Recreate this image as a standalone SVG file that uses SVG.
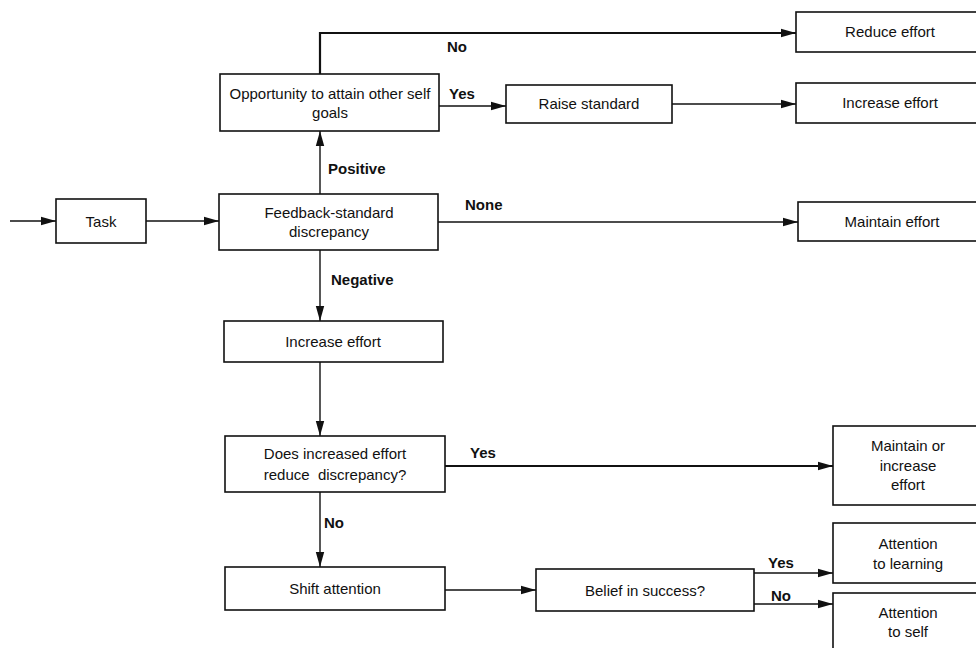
<svg xmlns="http://www.w3.org/2000/svg" width="976" height="648" viewBox="0 0 976 648">
<defs>
<marker id="ah" markerUnits="userSpaceOnUse" markerWidth="16" markerHeight="10" refX="15" refY="5" orient="auto">
<path d="M0,0.8 L15,5 L0,9.2 Z" fill="#111"/>
</marker>
<style>
.box{fill:#fff;stroke:#111;stroke-width:1.6}
.t{font-family:"Liberation Sans",Arial,sans-serif;font-size:15px;fill:#111;text-anchor:middle}
.l{font-family:"Liberation Sans",Arial,sans-serif;font-size:15px;font-weight:bold;fill:#111}
.c{fill:none;stroke:#111;stroke-width:1.4;marker-end:url(#ah)}
.thick{stroke-width:2.2}
</style>
</defs>
<g id="connectors">
<path class="c" d="M10,221 H56"/>
<path class="c" d="M146,221 H219"/>
<path class="c" d="M320,194 V131"/>
<path class="c thick" d="M320,74 V33 H796"/>
<path class="c" d="M439,106 H506"/>
<path class="c" d="M672,104 H796"/>
<path class="c" d="M438,222 H798"/>
<path class="c" d="M320,250 V321"/>
<path class="c" d="M320,362 V436"/>
<path class="c thick" d="M445,466 H833"/>
<path class="c" d="M320,492 V567"/>
<path class="c" d="M445,590 H536"/>
<path class="c" d="M754,573 H833"/>
<path class="c" d="M754,604 H833"/>
<text class="l" x="328" y="174">Positive</text>
<text class="l" x="447" y="52">No</text>
<text class="l" x="449" y="99">Yes</text>
<text class="l" x="465" y="210">None</text>
<text class="l" x="331" y="285">Negative</text>
<text class="l" x="470" y="458">Yes</text>
<text class="l" x="324" y="528">No</text>
<text class="l" x="768" y="568">Yes</text>
<text class="l" x="771" y="601">No</text>
</g>
<g id="task"><rect class="box" x="56" y="199" width="90" height="44"/><text class="t" x="101" y="227">Task</text></g>
<g id="feedback"><rect class="box" x="219" y="194" width="219" height="56"/><text class="t" x="329" y="218">Feedback-standard</text><text class="t" x="329" y="237">discrepancy</text></g>
<g id="opportunity"><rect class="box" x="220" y="74" width="219" height="57"/><text class="t" x="330" y="99">Opportunity to attain other self</text><text class="t" x="330" y="118">goals</text></g>
<g id="raise"><rect class="box" x="506" y="85" width="166" height="38"/><text class="t" x="589" y="109">Raise standard</text></g>
<g id="reduce"><rect class="box" x="796" y="12" width="190" height="40"/><text class="t" x="890" y="37">Reduce effort</text></g>
<g id="increase-top"><rect class="box" x="796" y="83" width="190" height="40"/><text class="t" x="890" y="108">Increase effort</text></g>
<g id="maintain"><rect class="box" x="798" y="202" width="190" height="39"/><text class="t" x="892" y="227">Maintain effort</text></g>
<g id="increase"><rect class="box" x="224" y="321" width="219" height="41"/><text class="t" x="333" y="347">Increase effort</text></g>
<g id="does"><rect class="box" x="225" y="436" width="220" height="56"/><text class="t" x="335" y="459">Does increased effort</text><text class="t" x="335" y="480" xml:space="preserve">reduce  discrepancy?</text></g>
<g id="maintain-increase"><rect class="box" x="833" y="426" width="160" height="79"/><text class="t" x="908" y="451">Maintain or</text><text class="t" x="908" y="471">increase</text><text class="t" x="908" y="490">effort</text></g>
<g id="shift"><rect class="box" x="225" y="567" width="220" height="43"/><text class="t" x="335" y="594">Shift attention</text></g>
<g id="belief"><rect class="box" x="536" y="569" width="218" height="42"/><text class="t" x="645" y="596">Belief in success?</text></g>
<g id="learning"><rect class="box" x="833" y="523" width="160" height="60"/><text class="t" x="908" y="549">Attention</text><text class="t" x="908" y="569">to learning</text></g>
<g id="self"><rect class="box" x="833" y="593" width="160" height="70"/><text class="t" x="908" y="618">Attention</text><text class="t" x="908" y="637">to self</text></g>
</svg>
